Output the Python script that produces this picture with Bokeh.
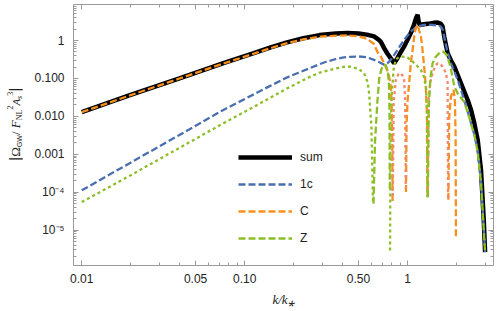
from bokeh.plotting import figure
from bokeh.layouts import row
from bokeh.models import (Range1d, FixedTicker, LogAxis, Legend, LegendItem,
                          CustomJSTickFormatter, Div)
from bokeh.embed import file_html
from bokeh.resources import INLINE

# ---------------- data ----------------
k_sum = [0.01, 0.01995, 0.0398, 0.0741, 0.1138, 0.1445, 0.1820, 0.2291, 0.2884, 0.3631,
         0.4266, 0.5012, 0.5623, 0.6223, 0.6607, 0.6855, 0.7178, 0.7534, 0.7889, 0.8279,
         0.867, 0.9099, 0.9528, 1.0, 1.0471, 1.0965, 1.1246, 1.1535, 1.1695, 1.1885,
         1.2589, 1.3274, 1.4454, 1.5311, 1.6032, 1.6406, 1.6788, 1.762, 1.845, 1.9364,
         2.1281, 2.3388, 2.4547, 2.5704, 2.6977, 2.8249, 2.9376, 2.9923]
sum_vals = [0.0130, 0.0367, 0.101, 0.252, 0.465, 0.656, 0.895, 1.15, 1.39, 1.53,
            1.57, 1.53, 1.43, 1.28, 1.07, 0.93, 0.63, 0.447, 0.339, 0.252,
            0.342, 0.50, 0.693, 1.05, 1.57, 2.63, 3.80, 4.79, 3.16, 2.57,
            2.69, 2.75, 2.92, 2.99, 2.75, 2.34, 1.28, 0.465, 0.302, 0.205,
            0.0746, 0.027, 0.0148, 0.00653, 0.00234, 3.8e-4, 1.78e-5, 2.63e-6]

k_1c = [0.01, 0.01995, 0.0398, 0.0741, 0.1138, 0.1413, 0.1828, 0.2138, 0.2512, 0.2818,
        0.3162, 0.3548, 0.3981, 0.4467, 0.5012, 0.5623, 0.6223, 0.6761, 0.7178, 0.7534,
        0.7889, 0.8279, 0.867, 0.9099, 0.9528, 1.0, 1.0471, 1.0965, 1.1535, 1.2589,
        1.39, 1.5136, 1.6032, 1.6406, 1.6788, 1.7458, 1.845, 2.0324, 2.2284, 2.3933,
        2.5704, 2.6977, 2.8249, 2.9376, 2.9923]
vals_1c = [1.12e-4, 6.03e-4, 3.24e-3, 0.0148, 0.038, 0.0617, 0.107, 0.141, 0.186, 0.229,
           0.275, 0.316, 0.355, 0.372, 0.38, 0.363, 0.309, 0.263, 0.228, 0.251,
           0.309, 0.417, 0.567, 0.776, 1.04, 1.35, 1.73, 2.04, 2.34, 2.57,
           2.60, 2.51, 2.34, 2.0, 1.28, 0.567, 0.251, 0.0912, 0.0269, 0.00977,
           0.00331, 0.0012, 2.0e-4, 1.12e-5, 2.63e-6]

k_C = [0.01, 0.01995, 0.0398, 0.0741, 0.1138, 0.1445, 0.1820, 0.2291, 0.2924, 0.3548,
       0.4276, 0.5012, 0.5623, 0.6223, 0.6531, 0.6855, 0.7178, 0.7534, 0.7709, 0.7889,
       0.798, 0.8054, 0.8091, 0.8119, 0.8222, 0.8472, 0.881, 0.9099, 0.9333, 0.9528,
       0.9661, 0.975, 0.9784, 0.9863, 1.0, 1.0228, 1.0471, 1.074, 1.1015, 1.1246,
       1.1535, 1.1803, 1.2078, 1.2359, 1.2647, 1.2942, 1.3152, 1.3243, 1.3289, 1.349,
       1.3804, 1.4256, 1.4791, 1.5311, 1.5849, 1.6406, 1.7179, 1.762, 1.7742, 1.7803,
       1.803, 1.845, 1.9187, 1.9543, 1.9724, 1.9815]
vals_C = [0.0129, 0.0362, 0.0995, 0.247, 0.45, 0.63, 0.85, 1.07, 1.27, 1.33,
          1.36, 1.29, 1.12, 0.81, 0.50, 0.38, 0.25, 0.158, 0.112, 0.063,
          0.027, 0.0032, 5.5e-5, -7.9e-5, -0.025, -0.091, -0.132, -0.137, -0.117, -0.091,
          -0.0316, -1.26e-4, 1.02e-4, 0.0063, 0.025, 0.0746, 0.251, 0.567, 1.41, 2.13,
          2.60, 1.78, 1.28, 0.56, 0.205, 0.063, 0.0126, 7.9e-5, -7.9e-5, -0.0316,
          -0.079, -0.141, -0.209, -0.251, -0.24, -0.205, -0.141, -0.079, -6.3e-5, 6.3e-5,
          0.01, 0.033, 0.05, 0.025, 0.0032, 5.9e-6]

k_Z = [0.01, 0.01995, 0.0398, 0.0741, 0.1138, 0.1828, 0.2512, 0.2924, 0.3532, 0.3981,
       0.4477, 0.5012, 0.5408, 0.5689, 0.5808, 0.5998, 0.6138, 0.618, 0.631, 0.6531,
       0.6699, 0.6918, 0.7161, 0.7345, 0.7551, 0.7674, 0.7745, 0.778, 0.7807, 0.787,
       0.798, 0.8091, 0.8222, 0.8472, 0.8913, 0.9311, 1.0, 1.0471, 1.122, 1.2078,
       1.2589, 1.2972, 1.3152, 1.3259, 1.332, 1.349, 1.3804, 1.4256, 1.4791, 1.5311,
       1.5849, 1.6406, 1.6982, 1.762, 1.845, 1.9364, 2.0324, 2.2284, 2.3933, 2.5704,
       2.6977, 2.8249, 2.9376, 2.9923]
vals_Z = [-5.5e-5, -2.8e-4, -1.48e-3, -6.6e-3, -0.0178, -0.055, -0.11, -0.145, -0.178, -0.20,
          -0.205, -0.178, -0.137, -0.079, -0.041, -0.0054, -5e-5, 5e-5, 0.002, 0.025,
          0.1, 0.178, 0.229, 0.229, 0.158, 0.079, 0.0158, 1.26e-4, -2.9e-6, -0.0063,
          -0.0316, -0.074, -0.178, -0.316, -0.372, -0.378, -0.355, -0.309, -0.234, -0.168,
          -0.112, -0.06, -0.0158, -7.4e-5, 7.4e-5, 0.0158, 0.1, 0.251, 0.355, 0.419,
          0.49, 0.513, 0.468, 0.378, 0.178, 0.063, 0.04, 0.024, 0.0093, 0.00316,
          0.00112, 1.78e-4, 1.0e-5, 2.5e-6]

x_ticks = [0.01, 0.05, 0.1, 0.5, 1]
x_tick_labels = ["0.01", "0.05", "0.10", "0.50", "1"]
x_minor = [0.02, 0.03, 0.04, 0.06, 0.07, 0.08, 0.09, 0.2, 0.3, 0.4, 0.6, 0.7, 0.8, 0.9, 2, 3]
y_ticks = [1e-5, 1e-4, 1e-3, 1e-2, 1e-1, 1]
y_tick_labels = ["10\u207b\u2075", "10\u207b\u2074", "0.001", "0.010", "0.100", "1"]
y_minor = [m * 10.0 ** e for e in range(-6, 1) for m in range(2, 10)]

legend_labels = ["sum", "1c", "C", "Z"]
x_title = "k/k\u204e"

# ---------------- helpers ----------------
def split_by_sign(ks, vs):
    pos_x, pos_y, neg_x, neg_y = [], [], [], []
    cx, cy, sign = [], [], None
    for k, v in zip(ks, vs):
        s = v > 0
        if sign is not None and s != sign:
            (pos_x if sign else neg_x).append(cx)
            (pos_y if sign else neg_y).append(cy)
            cx, cy = [], []
        sign = s
        cx.append(k)
        cy.append(abs(v))
    if cx:
        (pos_x if sign else neg_x).append(cx)
        (pos_y if sign else neg_y).append(cy)
    return pos_x, pos_y, neg_x, neg_y


TICK_FMT = """
const lt = Math.log10(tick);
for (let i = 0; i < tvals.length; i++) {
  if (Math.abs(Math.log10(tvals[i]) - lt) < 1e-6) return tlabels[i];
}
return "";
"""
BLANK_FMT = "return '';"

FONT = "Liberation Sans"
GRAY = "#9a9a9a"
TXT = "#222222"
LABEL_W = 22

p = figure(width=498 - LABEL_W, height=311, x_axis_type="log", y_axis_type="log",
           x_range=Range1d(0.0089, 3.37), y_range=Range1d(1.17e-6, 8.9),
           output_backend="svg", toolbar_location=None,
           min_border_left=73 - LABEL_W, min_border_right=5, min_border_top=4,
           min_border_bottom=46)
p.grid.visible = False
p.outline_line_color = GRAY
p.outline_line_width = 1
p.background_fill_color = "white"
p.border_fill_color = "white"


def style_axis(ax, labels=True):
    ax.axis_line_color = None
    ax.major_tick_in = 5
    ax.major_tick_out = 0
    ax.minor_tick_in = 3
    ax.minor_tick_out = 0
    ax.major_tick_line_color = GRAY
    ax.minor_tick_line_color = GRAY
    if labels:
        ax.major_label_text_font = FONT
        ax.major_label_text_font_size = "12px"
        ax.major_label_text_color = TXT
    else:
        ax.formatter = CustomJSTickFormatter(code=BLANK_FMT)
        ax.major_label_text_font_size = "1px"
        ax.major_label_standoff = 0


xax = p.xaxis[0]
xax.ticker = FixedTicker(ticks=x_ticks, minor_ticks=x_minor)
xax.formatter = CustomJSTickFormatter(args=dict(tvals=x_ticks, tlabels=x_tick_labels), code=TICK_FMT)
style_axis(xax)
xax.major_label_standoff = 8
xax.axis_label = x_title
xax.axis_label_text_font = "Liberation Serif"
xax.axis_label_text_font_style = "italic"
xax.axis_label_text_font_size = "13px"
xax.axis_label_text_color = TXT
xax.axis_label_standoff = 6

yax = p.yaxis[0]
yax.ticker = FixedTicker(ticks=y_ticks, minor_ticks=y_minor)
yax.formatter = CustomJSTickFormatter(args=dict(tvals=y_ticks, tlabels=y_tick_labels), code=TICK_FMT)
style_axis(yax)
yax.major_label_standoff = 9

top_ax = LogAxis(ticker=FixedTicker(ticks=x_ticks, minor_ticks=x_minor))
style_axis(top_ax, labels=False)
p.add_layout(top_ax, "above")
right_ax = LogAxis(ticker=FixedTicker(ticks=y_ticks, minor_ticks=y_minor))
style_axis(right_ax, labels=False)
p.add_layout(right_ax, "right")

# ---------------- curves ----------------
BLUE = "#4a6fb0"
ORANGE = "#f7901e"
SALMON = "#f5876c"
GREEN = "#8cbf26"
DASH = "7 3"
DOT = "3 3"

r_sum = p.line(k_sum, sum_vals, line_color="black", line_width=4.5)

renderers = [r_sum]
for ks, vs, pos_col, neg_col in [(k_1c, vals_1c, BLUE, BLUE),
                                 (k_C, vals_C, ORANGE, SALMON),
                                 (k_Z, vals_Z, GREEN, GREEN)]:
    px, py, nx, ny = split_by_sign(ks, vs)
    rp = p.multi_line(px, py, line_color=pos_col, line_width=2.3, line_dash=DASH)
    if nx:
        p.multi_line(nx, ny, line_color=neg_col, line_width=2.3, line_dash=DOT)
    renderers.append(rp)

legend = Legend(items=[LegendItem(label=l, renderers=[r]) for l, r in zip(legend_labels, renderers)],
                location=(165, 17), padding=0, margin=0, border_line_color=None,
                background_fill_alpha=0, glyph_width=54, glyph_height=20, label_height=20,
                spacing=7, label_standoff=8, label_text_font=FONT,
                label_text_font_size="12px", label_text_color=TXT)
p.add_layout(legend, "center")

# ---------------- rotated y-axis title as real HTML text ----------------
y_title_html = (
    '<div style="width:%dpx;height:249px;writing-mode:vertical-rl;transform:rotate(180deg);'
    'text-align:center;line-height:%dpx;font-family:\'Liberation Serif\';font-size:13px;'
    'color:%s;white-space:nowrap;">'
    '<span style="font-family:\'Liberation Sans\';font-size:16px">|</span>'
    '\u03a9<sub style="font-family:\'Liberation Sans\';font-size:7px">GW</sub>'
    '/ <i>F</i><sub style="font-size:8px">NL</sub><sup style="font-size:8px">2</sup>'
    '<i style="font-size:11px">A</i><sub style="font-size:8px"><i>s</i></sub>'
    '<sup style="font-size:8px">3</sup>'
    '<span style="font-family:\'Liberation Sans\';font-size:16px">|</span>'
    '</div>' % (LABEL_W, LABEL_W, TXT)
)
y_title = Div(text=y_title_html, width=LABEL_W, height=311, margin=(0, 0, 0, 0))

layout = row(y_title, p)
open("out.html", "w").write(file_html(layout, INLINE))
